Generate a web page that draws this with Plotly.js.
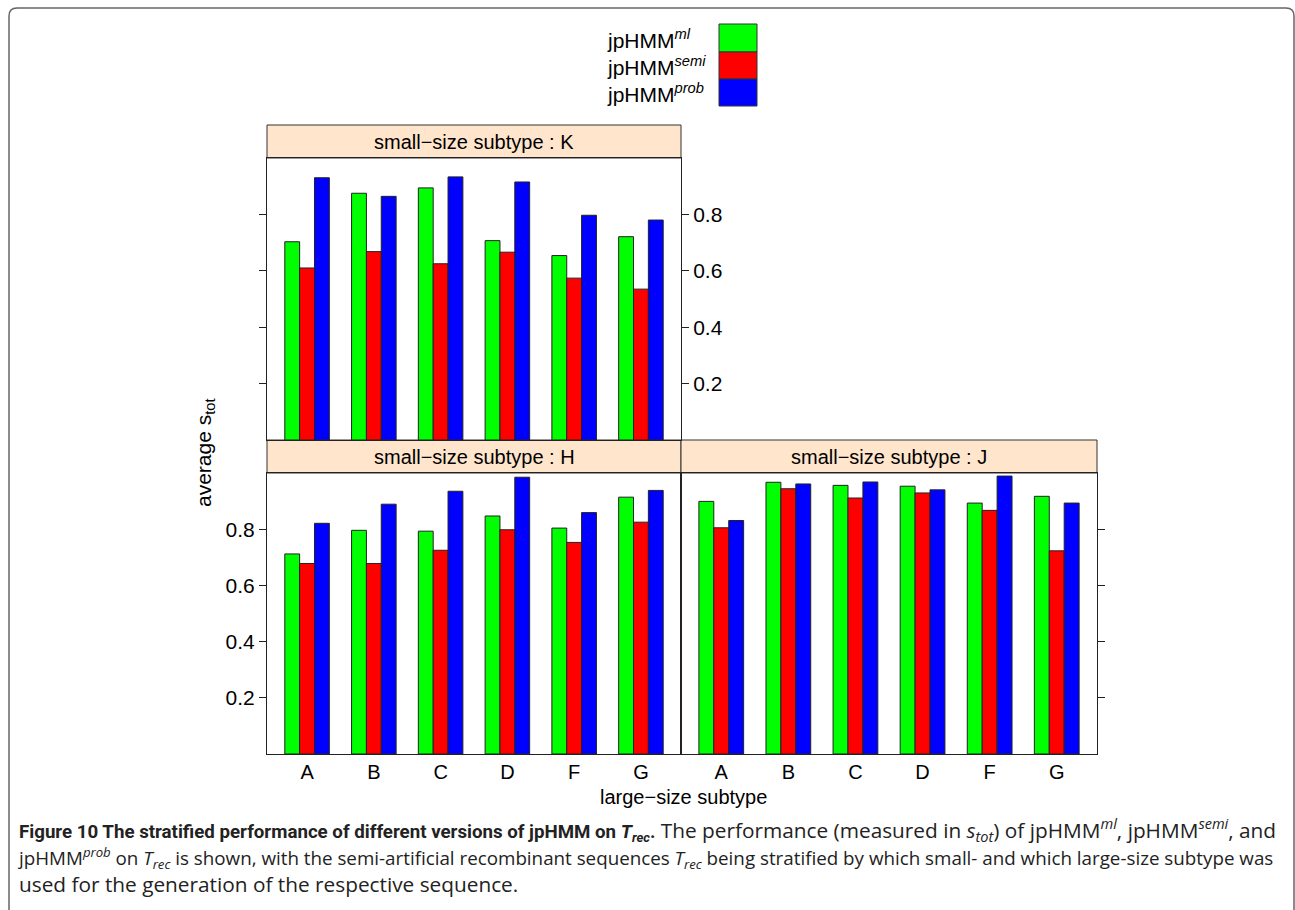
<!DOCTYPE html>
<html>
<head>
<meta charset="utf-8">
<script src="https://cdn.plot.ly/plotly-3.0.1.min.js"></script>
<style>
html,body{margin:0;padding:0;background:#fff;}
#chart{width:1295px;height:910px;}
</style>
</head>
<body>
<div id="chart"></div>
<script>
// ---- data ----
const categories = ['A', 'B', 'C', 'D', 'F', 'G'];
const seriesNames = ['jpHMM<sup><i>ml</i></sup>', 'jpHMM<sup><i>semi</i></sup>', 'jpHMM<sup><i>prob</i></sup>'];
const seriesColors = ['#00FF00', '#FF0000', '#0000FF'];
const panelNames = ['K', 'H', 'J'];

const K_ml   = [0.703, 0.875, 0.894, 0.707, 0.654, 0.721];
const K_semi = [0.610, 0.668, 0.625, 0.666, 0.574, 0.535];
const K_prob = [0.930, 0.864, 0.933, 0.915, 0.797, 0.780];

const H_ml   = [0.712, 0.796, 0.793, 0.847, 0.804, 0.914];
const H_semi = [0.678, 0.678, 0.725, 0.798, 0.753, 0.825];
const H_prob = [0.821, 0.889, 0.935, 0.985, 0.859, 0.938];

const J_ml   = [0.899, 0.967, 0.956, 0.953, 0.893, 0.917];
const J_semi = [0.805, 0.944, 0.911, 0.929, 0.867, 0.723];
const J_prob = [0.831, 0.961, 0.968, 0.940, 0.989, 0.893];

const yTicks = [0.2, 0.4, 0.6, 0.8];

// ---- layout helpers (pixel -> paper) ----
const W = 1295, H = 910;
const px = x => x / W;
const py = y => 1 - y / H;

const panelData = {K: [K_ml, K_semi, K_prob], H: [H_ml, H_semi, H_prob], J: [J_ml, J_semi, J_prob]};
const axisSuffix = {K: '', H: '2', J: '3'};

const traces = [];
panelNames.forEach(p => {
  panelData[p].forEach((vals, i) => {
    traces.push({
      type: 'bar',
      x: categories,
      y: vals,
      name: seriesNames[i],
      xaxis: 'x' + axisSuffix[p],
      yaxis: 'y' + axisSuffix[p],
      marker: {color: seriesColors[i], line: {color: '#222', width: 1}},
      showlegend: false,
      hoverinfo: 'x+y'
    });
  });
});

const FONT = 'Liberation Sans, Arial, Helvetica, sans-serif';
const tickFont = {family: FONT, size: 21, color: '#000'};

function xAxis(domain, anchor, showLabels) {
  return {
    domain: domain, anchor: anchor, type: 'category',
    categoryorder: 'array', categoryarray: categories,
    range: [-0.6, 5.6], showgrid: false, zeroline: false,
    showline: true, mirror: true, linecolor: '#222', linewidth: 1,
    ticks: '', showticklabels: showLabels, tickfont: {family: FONT, size: 20, color: '#000'}, fixedrange: true
  };
}
function yAxis(domain, anchor, side, showLabels, mirror) {
  return {
    domain: domain, anchor: anchor, side: side, range: [0, 1.0],
    tickvals: yTicks, ticktext: yTicks.map(v => v.toFixed(1)),
    showgrid: false, zeroline: false, showline: true, mirror: mirror,
    linecolor: '#222', linewidth: 1, ticks: 'outside', ticklen: 7, tickcolor: '#222',
    showticklabels: showLabels, tickfont: tickFont, fixedrange: true
  };
}

const leftX = [px(267), px(681)], rightX = [px(681), px(1097)];
const topY = [py(440), py(158)], botY = [py(754), py(473)];

const shapes = [];
const annotations = [];

// outer rounded frame
(function(){
  const l = 9, t = 8, r = 1294, b = 930, rad = 8;
  const path = `M ${px(l)} ${py(b)} L ${px(l)} ${py(t+rad)} Q ${px(l)} ${py(t)} ${px(l+rad)} ${py(t)} ` +
               `L ${px(r-rad)} ${py(t)} Q ${px(r)} ${py(t)} ${px(r)} ${py(t+rad)} L ${px(r)} ${py(b)}`;
  shapes.push({type: 'path', xref: 'paper', yref: 'paper', path: path, line: {color: '#666', width: 1.5}});
})();

// strips
const strips = [
  {name: 'K', x0: 267, x1: 681, y0: 125, y1: 158},
  {name: 'H', x0: 267, x1: 681, y0: 440, y1: 473},
  {name: 'J', x0: 681, x1: 1097, y0: 440, y1: 473}
];
strips.forEach(s => {
  shapes.push({type: 'rect', xref: 'paper', yref: 'paper', x0: px(s.x0), x1: px(s.x1), y0: py(s.y1), y1: py(s.y0),
    fillcolor: '#FFE5CC', line: {color: '#333', width: 1}, layer: 'below'});
  annotations.push({xref: 'paper', yref: 'paper', x: px((s.x0 + s.x1) / 2), y: py((s.y0 + s.y1) / 2),
    text: 'small\u2212size subtype : ' + s.name, showarrow: false, xanchor: 'center', yanchor: 'middle',
    font: {family: FONT, size: 20, color: '#000'}});
});

// legend (key)
const keyRows = [{y0: 24, y1: 52}, {y0: 52, y1: 79}, {y0: 79, y1: 106}];
keyRows.forEach((r, i) => {
  shapes.push({type: 'rect', xref: 'paper', yref: 'paper', x0: px(719), x1: px(757), y0: py(r.y1), y1: py(r.y0),
    fillcolor: seriesColors[i], line: {color: '#333', width: 1}});
  annotations.push({xref: 'paper', yref: 'paper', x: px(605), y: py((r.y0 + r.y1) / 2 + 1),
    text: seriesNames[i], showarrow: false, xanchor: 'left', yanchor: 'middle',
    font: {family: FONT, size: 21, color: '#000'}});
});

// axis titles
annotations.push({xref: 'paper', yref: 'paper', x: px(683), y: py(797), text: 'large\u2212size subtype',
  showarrow: false, xanchor: 'center', yanchor: 'middle', font: {family: FONT, size: 20, color: '#000'}});
annotations.push({xref: 'paper', yref: 'paper', x: px(205), y: py(452), text: 'average s<sub>tot</sub>',
  textangle: -90, showarrow: false, xanchor: 'center', yanchor: 'middle', font: {family: FONT, size: 21, color: '#000'}});

// caption (one multi-line text block)
const CAP = 'Open Sans, Noto Sans, sans-serif';
const captionLines = [
  '<span style="font-family:Roboto;font-weight:bold;font-size:18.7px">Figure 10 The stratified performance of different versions of jpHMM on <i>T<sub>rec</sub></i>.</span> The performance (measured in <i>s<sub>tot</sub></i>) of jpHMM<sup><i>ml</i></sup>, jpHMM<sup><i>semi</i></sup>, and',
  '<span style="font-size:18.8px">jpHMM<sup><i>prob</i></sup> on <i>T<sub>rec</sub></i> is shown, with the semi-artificial recombinant sequences <i>T<sub>rec</sub></i> being stratified by which small- and which large-size subtype was</span>',
  'used for the generation of the respective sequence.'
];
annotations.push({xref: 'paper', yref: 'paper', x: px(15), y: py(855), text: captionLines.join('<br>'), showarrow: false,
  xanchor: 'left', yanchor: 'middle', align: 'left', font: {family: CAP, size: 20.8, color: '#222'}});

const layout = {
  width: W, height: H,
  margin: {l: 0, r: 0, t: 0, b: 0},
  paper_bgcolor: '#fff', plot_bgcolor: '#fff',
  barmode: 'group', bargap: 0.333, bargroupgap: 0,
  showlegend: false,
  xaxis: xAxis(leftX, 'y', false),
  yaxis: yAxis(topY, 'x', 'right', true, 'ticks'),
  xaxis2: xAxis(leftX, 'y2', true),
  yaxis2: yAxis(botY, 'x2', 'left', true, true),
  xaxis3: xAxis(rightX, 'y3', true),
  yaxis3: yAxis(botY, 'x3', 'right', false, true),
  shapes: shapes,
  annotations: annotations
};

Plotly.newPlot('chart', traces, layout, {displayModeBar: false, staticPlot: true});
</script>
</body>
</html>
